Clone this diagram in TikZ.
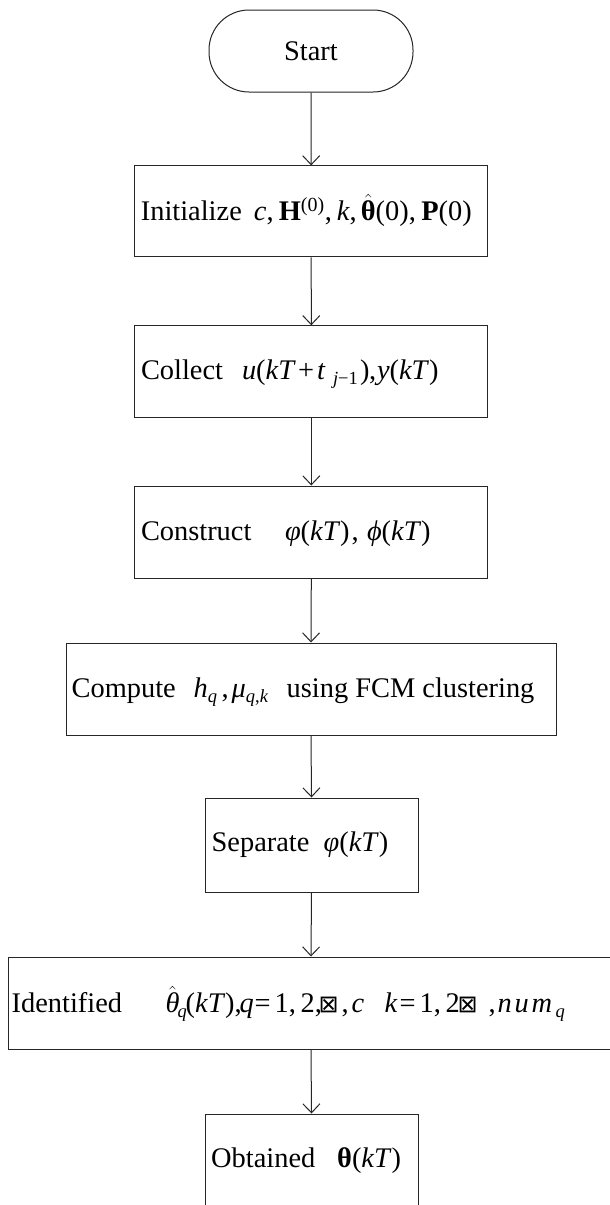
\documentclass[tikz,border=0pt]{standalone}
\usepackage{fontspec}
\setmainfont{Liberation Serif}
\newfontfamily\dejavu{DejaVu Sans}
\usetikzlibrary{arrows.meta,calc}
\tikzset{
  flowbox/.style={draw=black!85, line width=1pt, rectangle, inner sep=0pt},
  termbox/.style={draw=black!85, line width=1pt, rectangle, rounded corners=40pt,
    minimum width=204pt, minimum height=82pt, inner sep=0pt, font=\fontsize{28.4}{34}\selectfont},
  lbl/.style={anchor=base west, inner sep=0pt, font=\fontsize{28.4}{34}\selectfont},
  flow/.style={draw=black!85, line width=1pt, -{Straight Barb[length=9pt,width=17pt,line width=1pt]}},
}
\newcommand{\mv}[1]{\textit{#1}}
\newcommand{\pc}[2]{\makebox[0pt][l]{\hspace*{#1pt}#2}}
\newcommand{\sbs}[1]{\raisebox{-5pt}{\fontsize{18.5}{20}\selectfont #1}}
\newcommand{\sps}[1]{\raisebox{9pt}{\fontsize{20}{22}\selectfont #1}}
\newcommand{\bxg}{{\dejavu\fontsize{24}{26}\selectfont ⊠}}
\newcommand{\hatbf}{$\hat{\hbox{\bfseries θ}}$}
\newcommand{\hatit}{$\hat{\hbox{\itshape θ}}$}
\begin{document}
\begin{tikzpicture}[x=1pt,y=-1pt]
\clip (0,0) rectangle (610,1205);
\fill[white] (0,0) rectangle (610,1205);
% nodes
\node[termbox] (start) at (311,51) {Start};
\node[flowbox, minimum width=353pt, minimum height=91pt] (init) at (311.2,211.4) {};
\node[flowbox, minimum width=353pt, minimum height=92pt] (collect) at (311.3,371.8) {};
\node[flowbox, minimum width=353pt, minimum height=92pt] (construct) at (311.3,532) {};
\node[flowbox, minimum width=490pt, minimum height=92pt] (compute) at (311,689) {};
\node[flowbox, minimum width=213pt, minimum height=94pt] (separate) at (311.5,845) {};
\node[flowbox, minimum width=605pt, minimum height=92pt] (ident) at (311,1003) {};
\node[flowbox, minimum width=213pt, minimum height=93pt] (obtain) at (311.5,1160.5) {};
% labels
\node[lbl] (tinit) at ($(init.north west)+(6.5,55.5)$)
  {\pc{0}{Initialize}\pc{113}{\mv{c},}\pc{138}{\textbf{H}\sps{(0)}}\pc{184}{,}\pc{196}{\mv{k},}\pc{220}{\hatbf(0),}\pc{280.5}{\textbf{P}(0)}\hspace*{332pt}};
\node[lbl] (tcollect) at ($(collect.north west)+(6.5,54.5)$)
  {\pc{0}{Collect}\pc{101}{\mv{u}(\mv{kT}}\pc{157}{+}\pc{176}{\mv{t}}\pc{192}{\sbs{\mv{j}−1}}\pc{219}{)}\pc{228}{,}\pc{236}{\mv{y}(\mv{kT})}\hspace*{309pt}};
\node[lbl] (tconstruct) at ($(construct.north west)+(6.5,54.5)$)
  {\pc{0}{Construct}\pc{144}{\mv{φ}(\mv{kT})\kern2pt,}\pc{226}{\mv{ϕ}(\mv{kT})}\hspace*{291pt}};
\node[lbl] (tcompute) at ($(compute.north west)+(6,55)$)
  {\pc{0}{Compute}\pc{122}{\mv{h}\sbs{\mv{q}}}\pc{150}{,}\pc{160}{\mv{μ}\sbs{\mv{q},\mv{k}}}\pc{215}{using FCM clustering}\hspace*{464pt}};
\node[lbl] (tseparate) at ($(separate.north west)+(7,54)$)
  {\pc{0}{Separate}\pc{112}{\mv{φ}(\mv{kT})}\hspace*{181pt}};
\node[lbl] (tident) at ($(ident.north west)+(3.5,56)$)
  {\pc{0}{Identified}\pc{154}{\hatit}\pc{166}{\sbs{\mv{q}}}\pc{174}{(\mv{kT}),}\pc{228}{\mv{q}}\pc{243}{=}\pc{263}{1,\,2,}\pc{307}{\bxg}\pc{330}{,}\pc{340}{\mv{c}}\pc{373}{\mv{k}}\pc{388}{=}\pc{408}{1,\,2}\pc{446}{\bxg}\pc{477}{,}\pc{486}{\mv{n}}\pc{503}{\mv{u}}\pc{520}{\mv{m}}\pc{544}{\sbs{\mv{q}}}\hspace*{556pt}};
\node[lbl] (tobtain) at ($(obtain.north west)+(6.5,54)$)
  {\pc{0}{Obtained}\pc{126}{\textbf{θ}(\mv{kT})}\hspace*{191pt}};
% connectors
\draw[flow] (start.south) -- (init.north);
\draw[flow] (init.south) -- (collect.north);
\draw[flow] (collect.south) -- (construct.north);
\draw[flow] (construct.south) -- (compute.north);
\draw[flow] (compute.south) -- (separate.north);
\draw[flow] (separate.south) -- (ident.north);
\draw[flow] (ident.south) -- (obtain.north);
\end{tikzpicture}
\end{document}
